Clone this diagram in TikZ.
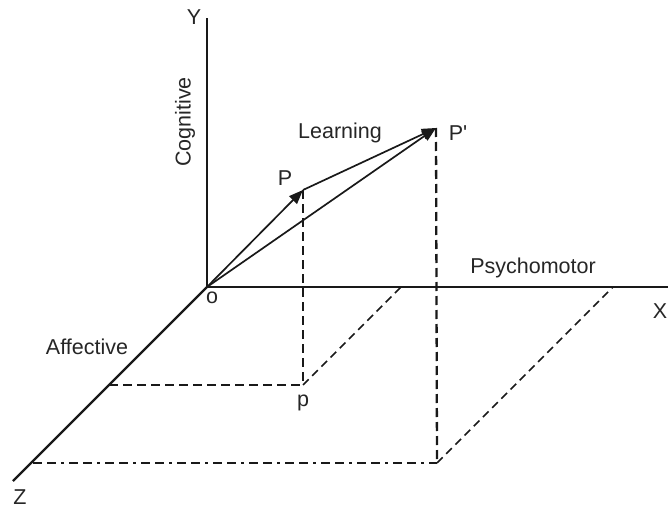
\documentclass[tikz,border=0pt]{standalone}
\usepackage{fontspec}
\setmainfont{Liberation Sans}
\usetikzlibrary{arrows.meta}
\tikzset{
 axis/.style={line width=2.3pt, draw=black!90},
 vec/.style={-{Triangle[length=5mm,width=3.8mm]}, line width=1.7pt, draw=black!90},
 proj/.style={line width=2.3pt, draw=black!90, dash pattern=on 9pt off 5pt},
 diag/.style={line width=1.6pt, draw=black!90, dash pattern=on 8pt off 5pt},
 dashdot/.style={line width=2.3pt, draw=black!90, dash pattern=on 9pt off 5pt on 9pt off 5pt on 3pt off 5pt},
 lbl/.style={font=\fontsize{21.5}{25}\selectfont, inner sep=0pt, text=black!85},
}
\begin{document}
\begin{tikzpicture}[x=1pt, y=-1pt]
\useasboundingbox (0,0) rectangle (672,508);
% points
\coordinate (o) at (207,287);
\coordinate (ytop) at (207,18);
\coordinate (xend) at (668,287);
\coordinate (zend) at (13,481);
\coordinate (P) at (303,190);
\coordinate (Pq) at (436,128);
\coordinate (p) at (303,385);
\coordinate (pz) at (109,385);
\coordinate (px) at (401,287);
\coordinate (q) at (437,463);
\coordinate (qz) at (33,463);
\coordinate (qx) at (613,287);
% axes
\draw[axis] (o) -- (ytop);
\draw[axis] (o) -- (xend);
\draw[axis] (o) -- (zend);
% projections
\draw[proj] (P) -- (p);
\draw[proj] (pz) -- (p);
\draw[diag] (p) -- (px);
\draw[proj] (Pq) -- (q);
\draw[dashdot] (qz) -- (q);
\draw[diag] (q) -- (qx);
% vectors
\draw[vec] (o) -- (P);
\draw[vec] (P) -- (Pq);
\draw[vec] (o) -- (Pq);
% labels
\node[lbl] (ylab) at (194,17) {Y};
\node[lbl, rotate=90] (cog) at (185,122) {Cognitive};
\node[lbl] (olab) at (212,298) {o};
\node[lbl] (xlab) at (660,311) {X};
\node[lbl] (psy) at (533,268) {Psychomotor};
\node[lbl] (learn) at (340,133) {Learning};
\node[lbl] (Plab) at (285,178) {P};
\node[lbl] (Pqlab) at (458,133) {P\textquotesingle};
\node[lbl] (aff) at (87,347) {Affective};
\node[lbl] (plab) at (303,403) {p};
\node[lbl] (zlab) at (20,497) {Z};
\end{tikzpicture}
\end{document}
